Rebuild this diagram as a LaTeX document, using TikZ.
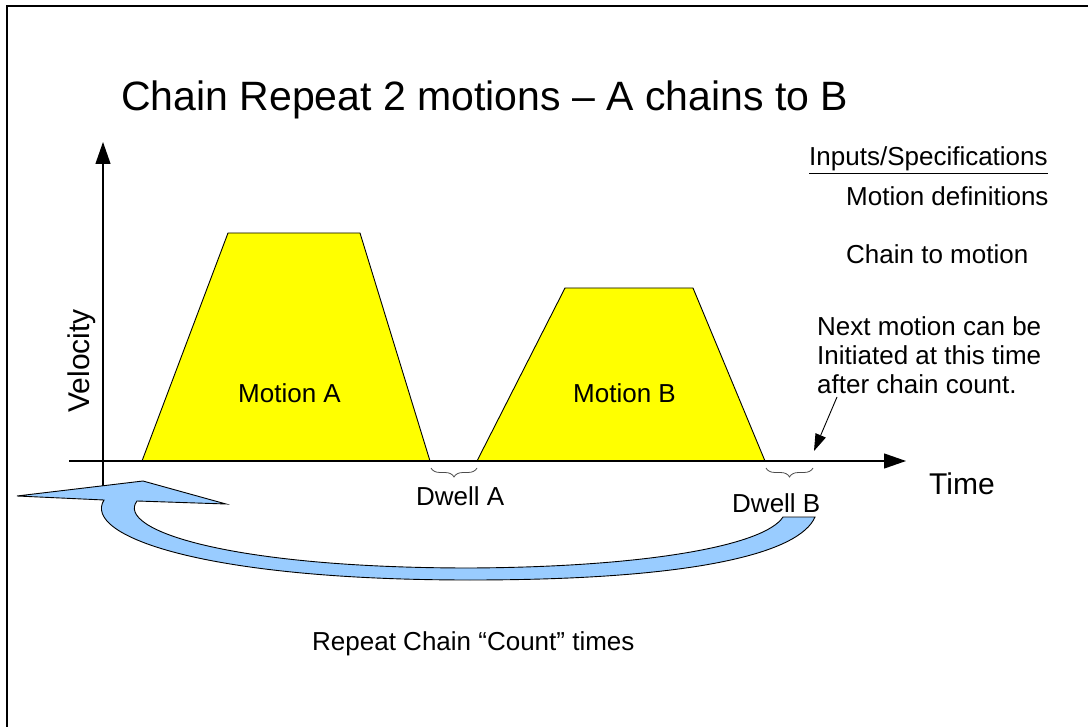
\documentclass[tikz,border=0pt]{standalone}
\usepackage{fontspec}
\setmainfont{Liberation Sans}
\usetikzlibrary{arrows.meta,decorations.pathreplacing}
\definecolor{motionyellow}{HTML}{FFFF00}
\definecolor{ribbonblue}{HTML}{99CCFF}
\tikzset{
  body/.style={inner sep=0pt, font=\fontsize{26}{30}\selectfont, anchor=base west},
  axislabel/.style={inner sep=0pt, font=\fontsize{30}{34}\selectfont},
  axisline/.style={line width=1.2pt, -{Triangle[length=22pt,width=15pt]}},
  motionshape/.style={fill=motionyellow, draw=black, line width=0.9pt},
  dwellbrace/.style={draw=black!70, line width=0.8pt, decorate, decoration={brace, mirror, amplitude=9pt}},
  ribbon/.style={fill=ribbonblue, draw=black, line width=0.9pt, line join=miter}
}
\begin{document}
\begin{tikzpicture}[x=1pt,y=-1pt]
\useasboundingbox (0,0) rectangle (1088,727);
% frame
\draw[line width=1.6pt] (7,727) -- (7,6) -- (1088,6);
% title
\node[inner sep=0pt, anchor=base west, font=\fontsize{41}{46}\selectfont] (title) at (121,111) {Chain Repeat 2 motions – A chains to B};
% motions
\draw[motionshape] (142,461) -- (228,233) -- (360,233) -- (430,461);
\draw[motionshape] (477,461) -- (565,288) -- (693,288) -- (765,461);
\node[body] (mA) at (238,403) {Motion A};
\node[body] (mB) at (573,403) {Motion B};
% axes
\coordinate (xstart) at (69,461);
\coordinate (xend) at (906,461);
\coordinate (ystart) at (103,492);
\coordinate (yend) at (103,142);
\draw[axisline] (xstart) -- (xend);
\draw[axisline] (ystart) -- (yend);
\node[axislabel, rotate=90, anchor=base] (vel) at (89,361) {Velocity};
\node[axislabel, anchor=base west] (time) at (929,494) {Time};
% dwell braces
\coordinate (dA1) at (431,468);
\coordinate (dA2) at (477,468);
\coordinate (dB1) at (766,468);
\coordinate (dB2) at (813,468);
\draw[dwellbrace] (dA1) -- (dA2);
\draw[dwellbrace] (dB1) -- (dB2);
\node[body] (dwA) at (416,505) {Dwell A};
\node[body] (dwB) at (732,512) {Dwell B};
% specifications
\node[body] (spec) at (809,166) {\underline{Inputs/Specifications}};
\node[body] (mdef) at (846,206) {Motion definitions};
\node[body] (cto) at (846,264) {Chain to motion};
\node[body] (nx1) at (817,336) {Next motion can be};
\node[body] (nx2) at (817,365) {Initiated at this time};
\node[body] (nx3) at (817,394) {after chain count.};
\coordinate (ptrstart) at (837,397);
\coordinate (ptrend) at (814,451);
\draw[line width=0.9pt, -{Triangle[length=17pt,width=11pt]}] (ptrstart) -- (ptrend);
% repeat ribbon arrow
\draw[ribbon] (17,496) -- (143,481) -- (226,504) -- (137,501)
  .. controls (115,530) and (230,568) .. (470,568)
  .. controls (650,567) and (765,545) .. (783,517)
  -- (815,517)
  .. controls (800,552) and (700,580) .. (470,580)
  .. controls (200,580) and (82,535) .. (104,500)
  -- cycle;
\node[body] (rep) at (312,650) {Repeat Chain “Count” times};
\end{tikzpicture}
\end{document}
